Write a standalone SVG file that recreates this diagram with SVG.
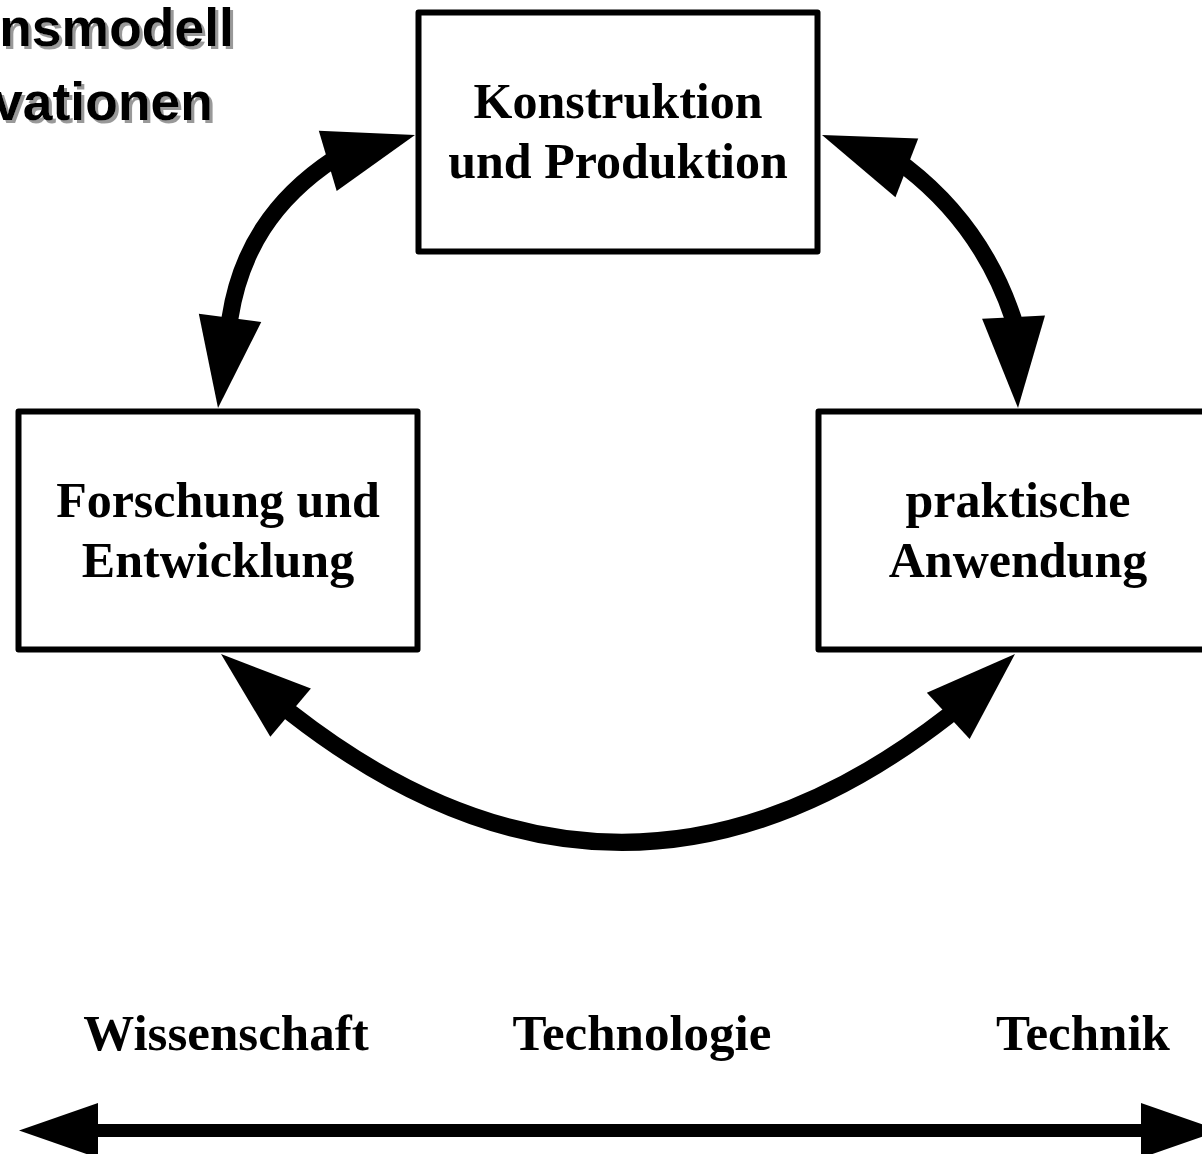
<svg xmlns="http://www.w3.org/2000/svg" xmlns:xlink="http://www.w3.org/1999/xlink" width="1202" height="1154" viewBox="0 0 1202 1154">
<style>
.box{fill:#fff;stroke:#000;stroke-width:6;stroke-linejoin:round}
.lbl{font-family:"Liberation Serif","Times New Roman",serif;font-weight:bold;font-size:50px;fill:#000;text-anchor:middle}
.axis{font-size:51px}
.title{font-family:"Liberation Sans",Arial,sans-serif;font-weight:bold;font-size:53.5px;text-anchor:end;fill:#000;filter:url(#shadow)}
.shaft{fill:none;stroke:#000;stroke-width:17;stroke-linecap:butt}
</style>
<defs>
<filter id="shadow" x="-10%" y="-20%" width="130%" height="150%">
<feOffset in="SourceAlpha" dx="3" dy="3" result="off"/>
<feFlood flood-color="#999"/>
<feComposite in2="off" operator="in" result="sh"/>
<feMerge><feMergeNode in="sh"/><feMergeNode in="SourceGraphic"/></feMerge>
</filter>
<path id="head" d="M0,0 L-91,-31.5 L-91,31.5 Z" fill="#000"/>
<path id="flathead" d="M0,0 L-79,-27.5 L-79,27.5 Z" fill="#000"/>
</defs>
<rect width="1202" height="1154" fill="#fff"/>
<g id="title">
<text class="title" x="234" y="46">nsmodell</text>
<text class="title" x="213" y="120">vationen</text>
</g>
<g id="connectors">
<path class="shaft" d="M334,159 C272.6,199.7 240.2,252 230,318 L228.5,330"/>
<use xlink:href="#head" transform="translate(415,135) rotate(-16.5)"/>
<use xlink:href="#head" transform="translate(218,408) rotate(97.6)"/>
<path class="shaft" d="M898,164 L906,167 C957,206.5 992.6,257 1013,318 L1013.5,328"/>
<use xlink:href="#head" transform="translate(822,135) rotate(-158.8)"/>
<use xlink:href="#head" transform="translate(1018,408) rotate(87.2)"/>
<path class="shaft" d="M283,706 L291,713 C510,884 729,886 948,716 L956,709"/>
<use xlink:href="#head" transform="translate(221,654) rotate(-139.9)"/>
<use xlink:href="#head" transform="translate(1015,654) rotate(-42.8)"/>
<line x1="90" y1="1130.5" x2="1150" y2="1130.5" stroke="#000" stroke-width="13"/>
<use xlink:href="#flathead" transform="translate(19,1130.5) rotate(180)"/>
<use xlink:href="#flathead" transform="translate(1220,1130.5)"/>
</g>
<g id="konstruktion">
<rect class="box" x="418.5" y="12.5" width="399" height="239"/>
<text class="lbl" x="618" y="118">Konstruktion</text>
<text class="lbl" x="618" y="178">und Produktion</text>
</g>
<g id="forschung">
<rect class="box" x="18.5" y="411.5" width="399" height="238"/>
<text class="lbl" x="218" y="517">Forschung und</text>
<text class="lbl" x="218" y="577">Entwicklung</text>
</g>
<g id="anwendung">
<rect class="box" x="818.5" y="411.5" width="399" height="238"/>
<text class="lbl" x="1018" y="517">praktische</text>
<text class="lbl" x="1018" y="577">Anwendung</text>
</g>
<g id="axis-labels">
<text class="lbl axis" x="226" y="1050">Wissenschaft</text>
<text class="lbl axis" x="642" y="1050">Technologie</text>
<text class="lbl axis" x="1083" y="1050">Technik</text>
</g>
</svg>
